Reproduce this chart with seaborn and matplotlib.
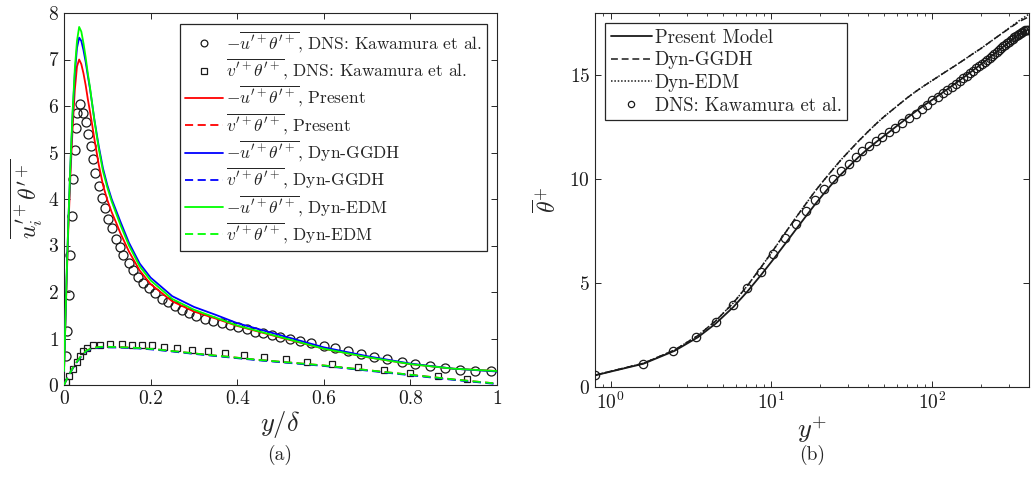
import numpy as np
import pandas as pd
import matplotlib
matplotlib.use("Agg")
import matplotlib.pyplot as plt
import seaborn as sns
from matplotlib.ticker import FixedLocator, FixedFormatter

# ---------------- Panel (a) data ----------------
dns_ut_x = [0.0046, 0.006, 0.0115, 0.014, 0.018, 0.0215, 0.025, 0.028, 0.031, 0.037,
            0.044, 0.050, 0.055, 0.062, 0.067, 0.072, 0.080, 0.087, 0.095, 0.102,
            0.112, 0.120, 0.129, 0.137, 0.149, 0.160, 0.172, 0.183, 0.197, 0.210,
            0.226, 0.241, 0.256, 0.272, 0.289, 0.306, 0.326, 0.345, 0.364, 0.383,
            0.403, 0.422, 0.441, 0.460, 0.480, 0.499, 0.522, 0.545, 0.57, 0.60,
            0.625, 0.655, 0.685, 0.715, 0.745, 0.78, 0.81, 0.845, 0.88, 0.915,
            0.95, 0.985]
dns_ut_y = [0.63, 1.17, 1.93, 2.79, 3.64, 4.43, 5.06, 5.53, 5.85, 6.04,
            5.86, 5.66, 5.39, 5.14, 4.85, 4.55, 4.29, 4.03, 3.80, 3.58,
            3.37, 3.15, 2.97, 2.80, 2.62, 2.47, 2.33, 2.19, 2.08, 1.97,
            1.86, 1.79, 1.70, 1.61, 1.54, 1.48, 1.43, 1.38, 1.33, 1.29,
            1.24, 1.20, 1.15, 1.11, 1.08, 1.04, 1.00, 0.95, 0.90, 0.84,
            0.79, 0.73, 0.67, 0.61, 0.56, 0.50, 0.45, 0.40, 0.36, 0.33,
            0.31, 0.30]

dns_vt_x = [0.004, 0.0115, 0.02, 0.029, 0.037, 0.044, 0.054, 0.066, 0.084, 0.107,
            0.133, 0.156, 0.179, 0.203, 0.231, 0.261, 0.295, 0.332, 0.372, 0.416,
            0.462, 0.512, 0.562, 0.619, 0.678, 0.738, 0.80, 0.864, 0.93]
dns_vt_y = [0.06, 0.19, 0.34, 0.49, 0.62, 0.73, 0.80, 0.85, 0.87, 0.89,
            0.89, 0.87, 0.86, 0.85, 0.82, 0.79, 0.75, 0.73, 0.69, 0.65,
            0.60, 0.56, 0.50, 0.45, 0.39, 0.32, 0.26, 0.19, 0.12]

model_ut_x = [0, 0.003, 0.006, 0.01, 0.015, 0.02, 0.025, 0.03, 0.035, 0.04,
              0.045, 0.05, 0.055, 0.06, 0.065, 0.07, 0.08, 0.09, 0.1, 0.11,
              0.12, 0.13, 0.15, 0.175, 0.2, 0.25, 0.3, 0.35, 0.4, 0.5,
              0.6, 0.7, 0.8, 0.9, 1.0]
present_ut = [0.3, 1.25, 2.2, 3.35, 4.55, 5.55, 6.35, 6.85, 7.0, 6.9,
              6.7, 6.45, 6.15, 5.88, 5.6, 5.3, 4.75, 4.3, 3.98, 3.72,
              3.5, 3.27, 2.87, 2.46, 2.17, 1.8, 1.58, 1.43, 1.27, 1.02,
              0.78, 0.6, 0.45, 0.35, 0.3]
ggdh_ut = [0.3, 1.3, 2.3, 3.5, 4.75, 5.85, 6.7, 7.25, 7.47, 7.4,
           7.2, 6.95, 6.65, 6.37, 6.05, 5.72, 5.15, 4.66, 4.3, 4.0,
           3.76, 3.52, 3.06, 2.61, 2.31, 1.91, 1.68, 1.51, 1.33, 1.07,
           0.81, 0.62, 0.46, 0.35, 0.29]
edm_ut = [0.3, 1.3, 2.3, 3.5, 4.8, 5.9, 6.8, 7.4, 7.7, 7.6,
          7.35, 7.05, 6.7, 6.4, 6.05, 5.7, 5.1, 4.6, 4.25, 3.95,
          3.7, 3.45, 3.0, 2.55, 2.25, 1.85, 1.62, 1.45, 1.28, 1.03,
          0.78, 0.6, 0.45, 0.35, 0.3]

model_vt_x = [0, 0.005, 0.01, 0.014, 0.02, 0.029, 0.04, 0.052, 0.067, 0.085,
              0.106, 0.14, 0.183, 0.22, 0.26, 0.32, 0.375, 0.45, 0.5, 0.6,
              0.7, 0.8, 0.9, 1.0]
present_vt = [0, 0.1, 0.19, 0.26, 0.36, 0.49, 0.63, 0.74, 0.8, 0.82,
              0.82, 0.81, 0.79, 0.76, 0.72, 0.66, 0.61, 0.54, 0.5, 0.42,
              0.32, 0.22, 0.12, 0.03]
ggdh_vt = [0, 0.1, 0.19, 0.26, 0.35, 0.48, 0.62, 0.73, 0.79, 0.81,
           0.81, 0.80, 0.78, 0.75, 0.71, 0.65, 0.60, 0.53, 0.49, 0.41,
           0.31, 0.21, 0.11, 0.02]
edm_vt = [0, 0.1, 0.19, 0.26, 0.36, 0.49, 0.63, 0.74, 0.8, 0.82,
          0.82, 0.81, 0.79, 0.76, 0.72, 0.66, 0.61, 0.54, 0.5, 0.42,
          0.32, 0.22, 0.12, 0.03]

# ---------------- Panel (b) data ----------------
dns_yplus = [0.8, 1.6, 2.45, 3.4, 4.55, 5.75, 7.1, 8.6, 10.3, 12.2,
             14.2, 16.4, 18.6, 21.3, 24, 27, 30.4, 33.5, 36.8, 40.5,
             44.6, 49, 54, 59, 65, 72, 79, 86, 93, 100,
             108, 116, 124, 132, 140, 148, 156, 164, 172, 180,
             188, 196, 204, 212, 220, 228, 236, 244, 252, 260,
             268, 276, 284, 292, 300, 308, 316, 324, 332, 340,
             348, 356, 364, 372, 380, 388, 395]
dns_theta = [0.56, 1.12, 1.73, 2.41, 3.13, 3.93, 4.75, 5.55, 6.42, 7.18,
             7.85, 8.47, 9.02, 9.52, 9.99, 10.39, 10.75, 11.07, 11.35, 11.6,
             11.83, 12.05, 12.25, 12.47, 12.7, 12.93, 13.15, 13.38, 13.58, 13.8,
             13.98, 14.14, 14.3, 14.45, 14.59, 14.72, 14.85, 14.98, 15.1, 15.22,
             15.33, 15.44, 15.55, 15.65, 15.75, 15.85, 15.95, 16.04, 16.13, 16.22,
             16.31, 16.39, 16.47, 16.55, 16.62, 16.69, 16.76, 16.83, 16.89, 16.95,
             17.0, 17.05, 17.09, 17.13, 17.16, 17.18, 17.2]

model_yplus = [0.8, 1.6, 2.5, 3.5, 4.5, 5.8, 7.1, 8.6, 10.3, 12.2,
               14.2, 16.4, 18.6, 21.3, 24, 27, 30.4, 35, 40, 45,
               50, 60, 70, 80, 90, 100, 120, 140, 160, 180,
               200, 250, 300, 350, 395]
present_theta = [0.56, 1.12, 1.74, 2.4, 3.05, 3.85, 4.6, 5.38, 6.15, 6.9,
                 7.58, 8.22, 8.77, 9.33, 9.8, 10.22, 10.62, 11.08, 11.48, 11.8,
                 12.07, 12.55, 12.95, 13.3, 13.58, 13.82, 14.25, 14.62, 14.95, 15.25,
                 15.52, 16.1, 16.6, 17.0, 17.2]
ggdh_theta = [0.57, 1.14, 1.78, 2.48, 3.18, 4.05, 4.88, 5.75, 6.6, 7.42,
              8.15, 8.82, 9.4, 9.97, 10.45, 10.92, 11.35, 11.85, 12.3, 12.68,
              13.0, 13.5, 13.92, 14.25, 14.52, 14.75, 15.15, 15.48, 15.78, 16.05,
              16.28, 16.82, 17.25, 17.6, 17.8]
edm_theta = [0.57, 1.14, 1.78, 2.48, 3.18, 4.05, 4.88, 5.75, 6.6, 7.42,
             8.15, 8.82, 9.4, 9.97, 10.45, 10.92, 11.35, 11.85, 12.3, 12.68,
             13.0, 13.5, 13.92, 14.25, 14.52, 14.75, 15.15, 15.48, 15.78, 16.05,
             16.28, 16.82, 17.27, 17.65, 17.92]

x_ticks_a = [0, 0.2, 0.4, 0.6, 0.8, 1.0]
x_ticklabels_a = ["0", "0.2", "0.4", "0.6", "0.8", "1"]
y_ticks_a = [0, 1, 2, 3, 4, 5, 6, 7, 8]
y_ticks_b = [0, 5, 10, 15]

# ---------------- Style ----------------
sns.set_theme(style="ticks")
plt.rcParams["font.family"] = ["cmr10", "DejaVu Serif"]
plt.rcParams["mathtext.fontset"] = "cm"
plt.rcParams["axes.formatter.use_mathtext"] = True
plt.rcParams["axes.unicode_minus"] = False

SPINE = "#262626"
fig = plt.figure(figsize=(10.31, 4.93), dpi=100)
axa = fig.add_axes([64 / 1031, 1 - 385 / 493, 433 / 1031, 372 / 493])
axb = fig.add_axes([595 / 1031, 1 - 387 / 493, 434 / 1031, 374 / 493])

lw = 1.3
dash = (4.5, 2.5)

# Panel (a)
sns.lineplot(x=dns_ut_x, y=dns_ut_y, ax=axa, marker="o", linestyle="", color="k",
             markerfacecolor="none", markeredgecolor="k", markeredgewidth=0.9,
             markersize=6.5, label=r"$-\overline{u^{\prime+}\theta^{\prime+}}$, DNS: Kawamura et al.",
             zorder=3)
sns.lineplot(x=dns_vt_x, y=dns_vt_y, ax=axa, marker="s", linestyle="", color="k",
             markerfacecolor="none", markeredgecolor="k", markeredgewidth=0.9,
             markersize=5, label=r"$\overline{v^{\prime+}\theta^{\prime+}}$, DNS: Kawamura et al.",
             zorder=3)
series_a = [
    (present_ut, present_vt, "#ff0000", "Present"),
    (ggdh_ut, ggdh_vt, "#0000ff", "Dyn-GGDH"),
    (edm_ut, edm_vt, "#00ff00", "Dyn-EDM"),
]
for i, (ut, vt, col, name) in enumerate(series_a):
    sns.lineplot(x=model_ut_x, y=ut, ax=axa, color=col, linewidth=lw,
                 label=r"$-\overline{u^{\prime+}\theta^{\prime+}}$, " + name, zorder=4 + i)
    sns.lineplot(x=model_vt_x, y=vt, ax=axa, color=col, linewidth=lw, dashes=dash,
                 label=r"$\overline{v^{\prime+}\theta^{\prime+}}$, " + name, zorder=4 + i)

axa.set_xlim(0, 1)
axa.set_ylim(0, 8)
axa.xaxis.set_major_locator(FixedLocator(x_ticks_a))
axa.xaxis.set_major_formatter(FixedFormatter(x_ticklabels_a))
axa.yaxis.set_major_locator(FixedLocator(y_ticks_a))
axa.set_xlabel(r"$y/\delta$", fontsize=19, labelpad=1)
axa.set_ylabel(r"$\overline{u_i^{\prime+}\theta^{\prime+}}$", fontsize=17, labelpad=3)
leg_a = axa.legend(loc="upper right", bbox_to_anchor=(0.977, 0.970), borderaxespad=0,
                   fontsize=12.5, frameon=True, fancybox=False, framealpha=1,
                   edgecolor=SPINE, handlelength=2.2, handletextpad=0.15,
                   labelspacing=0.1, borderpad=0.3, markerscale=0.75)
leg_a.get_frame().set_linewidth(0.9)

# Panel (b)
sns.lineplot(x=model_yplus, y=present_theta, ax=axb, color="k", linewidth=1.3,
             label="Present Model", zorder=4)
sns.lineplot(x=model_yplus, y=ggdh_theta, ax=axb, color="k", linewidth=1.1,
             dashes=(4.5, 2.5), label="Dyn-GGDH", zorder=4)
sns.lineplot(x=model_yplus, y=edm_theta, ax=axb, color="k", linewidth=1.1,
             dashes=(1, 1.2), label="Dyn-EDM", zorder=4)
sns.lineplot(x=dns_yplus, y=dns_theta, ax=axb, marker="o", linestyle="", color="k",
             markerfacecolor="none", markeredgecolor="k", markeredgewidth=0.9,
             markersize=6, label="DNS: Kawamura et al.", zorder=3)
axb.set_xscale("log")
axb.set_xlim(0.8, 400)
axb.set_ylim(0, 18)
axb.yaxis.set_major_locator(FixedLocator(y_ticks_b))
axb.set_xlabel(r"$y^{+}$", fontsize=19, labelpad=1)
axb.set_ylabel(r"$\overline{\theta}^{+}$", fontsize=17, labelpad=6)
leg_b = axb.legend(loc="upper left", bbox_to_anchor=(0.023, 0.973), borderaxespad=0,
                   fontsize=13.5, frameon=True, fancybox=False, framealpha=1,
                   edgecolor=SPINE, handlelength=2.2, handletextpad=0.15,
                   labelspacing=0.25, borderpad=0.3, markerscale=0.75)
leg_b.get_frame().set_linewidth(0.9)

for ax in (axa, axb):
    ax.set_facecolor("white")
    for sp in ax.spines.values():
        sp.set_visible(True)
        sp.set_color(SPINE)
        sp.set_linewidth(0.8)
    ax.tick_params(which="both", direction="in", top=True, right=True,
                   colors=SPINE, labelcolor="k", labelsize=14)
    ax.tick_params(which="major", length=4.5, width=0.7)
    ax.tick_params(which="minor", length=2.5, width=0.6)
    ax.grid(False)
axa.minorticks_off()

fig.text(280 / 1031, 1 - 455 / 493, "(a)", ha="center", va="center", fontsize=14)
fig.text(812 / 1031, 1 - 455 / 493, "(b)", ha="center", va="center", fontsize=14)

fig.savefig("out.png", dpi=100, facecolor="white")
